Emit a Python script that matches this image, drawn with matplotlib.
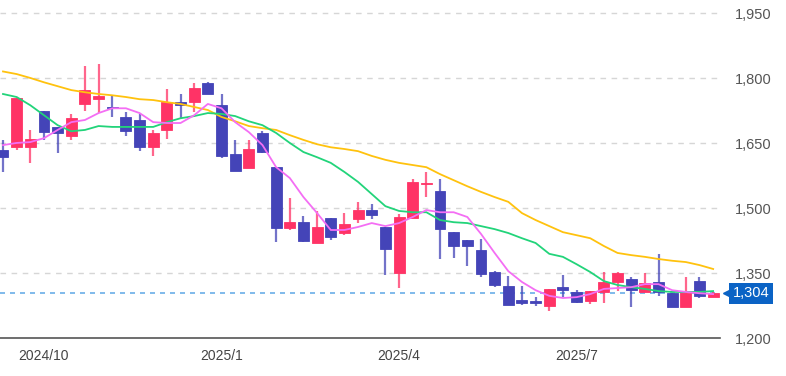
import numpy as np
import matplotlib
matplotlib.use("Agg")
from matplotlib import pyplot as plt
from matplotlib import transforms

plt.rcParams['font.family'] = ['Liberation Sans', 'DejaVu Sans']

# weekly candles, Sep 2024 - Sep 2025
opens = [1635, 1641, 1641, 1725, 1688, 1667, 1741, 1752, 1734, 1711,
         1704, 1641, 1681, 1745, 1745, 1789, 1738, 1625, 1593, 1674,
         1595, 1455, 1468, 1420, 1478, 1443, 1475, 1496, 1457, 1351,
         1478, 1556, 1540, 1445, 1427, 1404, 1353, 1321, 1288, 1286,
         1274, 1318, 1307, 1286, 1307, 1330, 1337, 1307, 1330, 1304,
         1272, 1332, 1296]
highs = [1658, 1755, 1681, 1725, 1688, 1718, 1828, 1833, 1761, 1722,
         1718, 1681, 1775, 1764, 1789, 1791, 1764, 1658, 1658, 1678,
         1595, 1524, 1482, 1494, 1478, 1489, 1515, 1510, 1457, 1487,
         1568, 1584, 1568, 1445, 1427, 1429, 1355, 1344, 1321, 1295,
         1314, 1346, 1311, 1309, 1353, 1353, 1341, 1351, 1395, 1304,
         1341, 1341, 1307]
lows = [1584, 1635, 1605, 1658, 1628, 1658, 1725, 1720, 1711, 1667,
        1632, 1621, 1660, 1708, 1722, 1764, 1616, 1586, 1593, 1628,
        1422, 1450, 1422, 1420, 1427, 1438, 1466, 1475, 1346, 1316,
        1478, 1526, 1383, 1385, 1367, 1341, 1318, 1277, 1277, 1274,
        1263, 1295, 1281, 1279, 1281, 1309, 1272, 1307, 1298, 1272,
        1272, 1293, 1296]
closes = [1618, 1755, 1660, 1676, 1674, 1708, 1773, 1759, 1731, 1678,
          1641, 1674, 1745, 1738, 1778, 1764, 1621, 1586, 1637, 1630,
          1455, 1468, 1425, 1457, 1434, 1464, 1496, 1485, 1406, 1480,
          1561, 1558, 1452, 1413, 1413, 1348, 1323, 1277, 1281, 1281,
          1314, 1311, 1284, 1309, 1330, 1351, 1311, 1328, 1307, 1272,
          1304, 1298, 1304]

ma_short = [1646, 1651, 1653, 1662, 1681, 1699, 1704, 1720, 1731, 1731,
            1720, 1699, 1697, 1697, 1715, 1741, 1731, 1699, 1676, 1646,
            1595, 1570, 1526, 1489, 1450, 1450, 1457, 1466, 1459, 1466,
            1480, 1496, 1491, 1491, 1480, 1441, 1397, 1355, 1330, 1311,
            1298, 1293, 1295, 1302, 1314, 1316, 1318, 1325, 1325, 1311,
            1307, 1304, 1302]
ma_mid = [1764, 1757, 1738, 1715, 1692, 1678, 1681, 1690, 1688, 1688,
          1688, 1688, 1699, 1708, 1713, 1720, 1718, 1713, 1701, 1692,
          1674, 1651, 1630, 1618, 1605, 1584, 1561, 1533, 1505, 1494,
          1491, 1491, 1473, 1468, 1466, 1459, 1452, 1443, 1431, 1420,
          1395, 1388, 1371, 1353, 1332, 1323, 1318, 1314, 1309, 1307,
          1307, 1307, 1309]
ma_long = [1816, 1810, 1801, 1791, 1782, 1773, 1768, 1764, 1761, 1757,
           1752, 1750, 1745, 1741, 1734, 1727, 1711, 1701, 1690, 1685,
           1681, 1669, 1658, 1648, 1641, 1637, 1632, 1621, 1612, 1605,
           1600, 1595, 1579, 1565, 1551, 1538, 1526, 1515, 1489, 1473,
           1459, 1445, 1438, 1431, 1413, 1397, 1392, 1388, 1383, 1379,
           1376, 1369, 1360]

tick_idx = [3, 16, 29, 42]
tick_labels = ['2024/10', '2025/1', '2025/4', '2025/7']
y_ticks = [1200, 1350, 1500, 1650, 1800, 1950]

UP = '#ff3366'
DOWN = '#4444b8'

fig = plt.figure(figsize=(7.86, 3.76), dpi=100)
ax = fig.add_axes([0.0, 0.1003, 0.916, 0.8997])

x = np.arange(len(closes))
o = np.array(opens)
c = np.array(closes)
up = c >= o
colors = np.where(up, UP, DOWN)

ax.vlines(x, lows, highs, colors=colors, linewidth=1.6, alpha=0.75, zorder=2)
bottoms = np.minimum(o, c)
heights = np.maximum(np.abs(c - o), 1.5)
ax.bar(x, heights, bottom=bottoms, width=0.8, color=colors,
       edgecolor=colors, linewidth=0.6, zorder=3)

ax.plot(x, ma_long, color='#ffc20e', lw=1.3, zorder=4)
ax.plot(x, ma_mid, color='#22d47a', lw=1.3, zorder=4)
ax.plot(x, ma_short, color='#f46ef4', lw=1.3, zorder=5)

last = closes[-1]
ax.axhline(last, color='#6aaee8', lw=1.2, ls=(0, (3, 3)), zorder=1)

ax.set_xlim(-0.22, 52.5)
ax.set_ylim(1200, 1981)

for v in y_ticks[1:]:
    ax.axhline(v, color='#d6d6d6', lw=1, ls=(0, (4, 4)), zorder=0)

for s in ['top', 'left', 'right']:
    ax.spines[s].set_visible(False)
ax.spines['bottom'].set_color('#555555')
ax.spines['bottom'].set_linewidth(1.2)

ax.yaxis.tick_right()
ax.set_yticks(y_ticks)
ax.set_yticklabels([f'{v:,}' for v in y_ticks])
ax.tick_params(axis='y', length=0, pad=11, labelsize=10.5, labelcolor='#555555')
ax.set_xticks(tick_idx)
ax.set_xticklabels(tick_labels)
ax.tick_params(axis='x', length=0, pad=8, labelsize=10, labelcolor='#444444')

# last price tag
trans = transforms.blended_transform_factory(ax.transAxes, ax.transData)
ax.plot([1.012], [last], marker='<', ms=9, color='#0b63c5', transform=trans,
        clip_on=False, zorder=6)
ax.text(1.018, last, f'{last:,}', transform=trans, color='white', fontsize=10.5,
        va='center', ha='left', clip_on=False, zorder=7,
        bbox=dict(boxstyle='square,pad=0.25', fc='#0b63c5', ec='none'))

fig.savefig('out.png', dpi=100)
